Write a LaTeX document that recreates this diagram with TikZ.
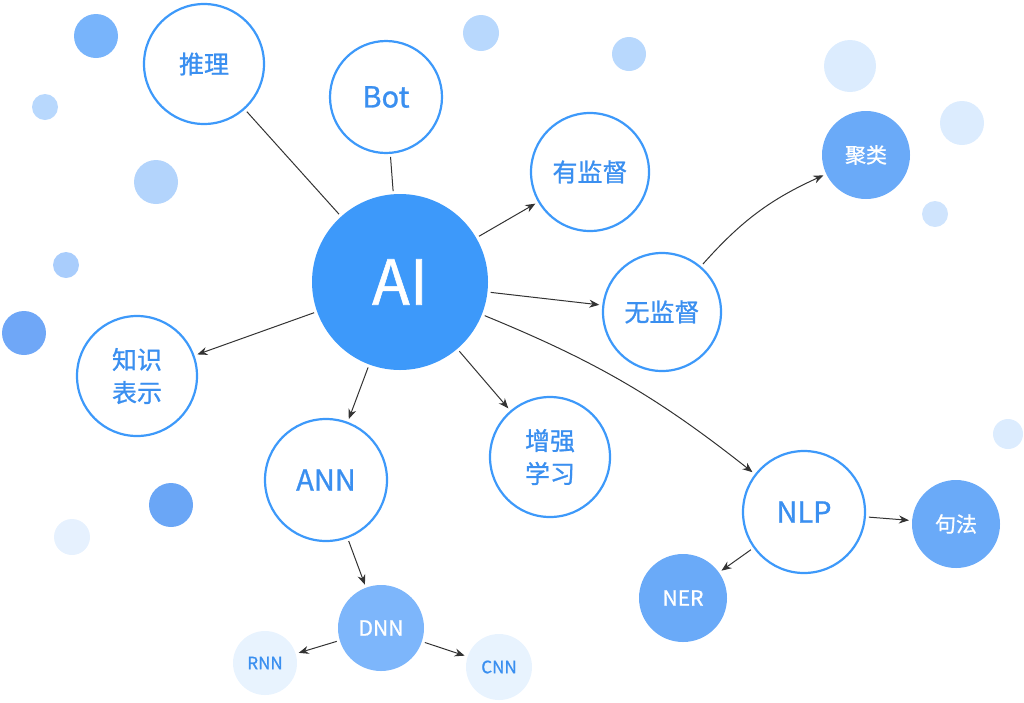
\documentclass[tikz,border=0pt]{standalone}
\usepackage{fontspec}
\setmainfont{Noto Sans CJK SC}[FakeBold=0.9]
\usetikzlibrary{arrows.meta}
\definecolor{ai}{HTML}{3D99FA}
\definecolor{txt}{HTML}{3A8FF0}
\definecolor{mid}{HTML}{6AAAF8}
\definecolor{dnn}{HTML}{7DB6FB}
\definecolor{pale}{HTML}{E8F3FE}
\definecolor{ln}{HTML}{333333}
\begin{document}
\begin{tikzpicture}[x=1pt,y=-1pt,
  ring/.style={circle,draw=ai,line width=2.2pt,fill=white,text=txt,font=\fontsize{25}{29}\selectfont,align=center,inner sep=0pt},
  solid/.style={circle,fill=mid,text=white,font=\fontsize{21}{24}\selectfont,inner sep=0pt},
  tiny/.style={circle,fill=pale,text=txt,font=\fontsize{17}{20}\selectfont,inner sep=0pt},
  arr/.style={draw=ln,line width=1pt,-{Stealth[length=10pt,width=8pt]},shorten >=3pt,shorten <=3pt},
  pln/.style={draw=ln,line width=1pt,shorten >=3pt,shorten <=3pt}]
\useasboundingbox (0,0) rectangle (1024,702);
\foreach \x/\y/\r/\c in {96/36/22/78B4FB,481/33/18/B8D8FD,45/107/13/B8D8FD,156/182/22/B3D4FC,66/265/13/A9CDFC,24/333/22/6FA7F7,171/505/22/6AA6F6,72/537/18/E6F1FE,629/54/17/B8D8FD,850/66/26/DCECFE,962/123/22/DCECFE,935/214/13/CFE4FD,1008/434/15/DCECFE}
  {\definecolor{tmp}{HTML}{\c}\fill[tmp] (\x,\y) circle (\r);}
\node[circle,fill=ai,text=white,minimum size=176pt,inner sep=0pt,font=\fontsize{62}{64}\selectfont] (ai) at (400,282) {AI};
\node[ring,minimum size=120pt] (tl) at (204,64) {推理};
\node[ring,minimum size=112pt,font=\fontsize{29}{31}\selectfont] (bot) at (386,97) {Bot};
\node[ring,minimum size=118pt] (yjd) at (590,172) {有监督};
\node[ring,minimum size=118pt] (wjd) at (662,312) {无监督};
\node[solid,minimum size=88pt] (jl) at (866,155) {聚类};
\node[ring,minimum size=120pt] (zs) at (137,376) {知识\\[4pt]表示};
\node[ring,minimum size=122pt,font=\fontsize{29}{31}\selectfont] (ann) at (326,480) {ANN};
\node[ring,minimum size=120pt] (zq) at (550,457) {增强\\[4pt]学习};
\node[ring,minimum size=122pt,font=\fontsize{29}{31}\selectfont] (nlp) at (804,512) {NLP};
\node[solid,minimum size=88pt] (jf) at (956,524) {句法};
\node[solid,minimum size=88pt] (ner) at (683,598) {NER};
\node[solid,fill=dnn,minimum size=86pt] (dnn) at (381,628) {DNN};
\node[tiny,minimum size=64pt] (rnn) at (265,663) {RNN};
\node[tiny,minimum size=66pt] (cnn) at (499,667) {CNN};
\draw[pln] (tl) -- (ai);
\draw[pln] (bot) -- (ai);
\draw[arr] (ai) -- (yjd);
\draw[arr] (ai) -- (wjd);
\draw[arr] (wjd) to[bend left=12] (jl);
\draw[arr] (ai) -- (zs);
\draw[arr] (ai) -- (ann);
\draw[arr] (ai) -- (zq);
\draw[arr] (ai) to[bend left=8] (nlp);
\draw[arr] (ann) -- (dnn);
\draw[arr] (dnn) -- (rnn);
\draw[arr] (dnn) -- (cnn);
\draw[arr] (nlp) -- (ner);
\draw[arr] (nlp) -- (jf);
\end{tikzpicture}
\end{document}
